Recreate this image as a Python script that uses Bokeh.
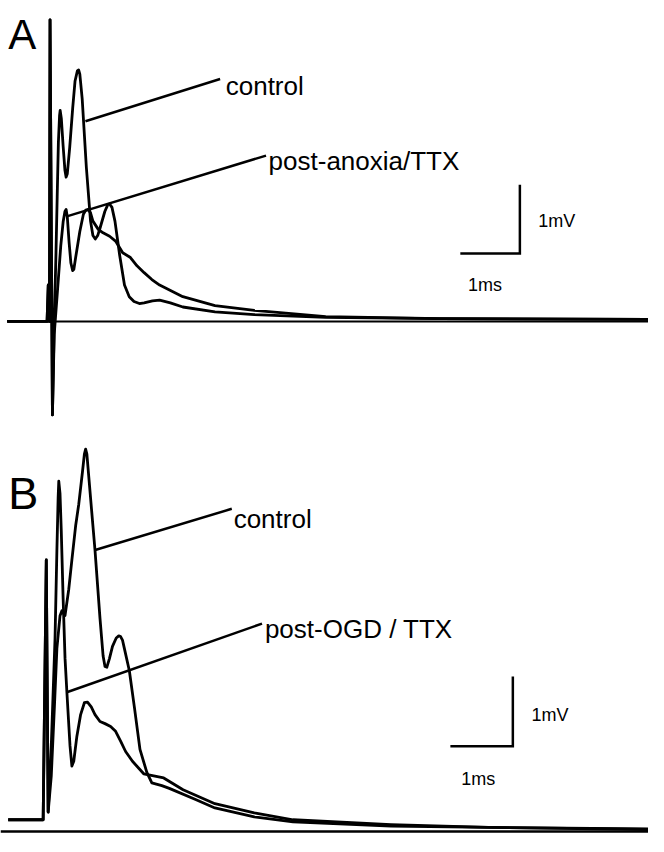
from bokeh.plotting import figure
from bokeh.models import Range1d
from bokeh.layouts import column
from bokeh.core.properties import value
from bokeh.embed import file_html
from bokeh.resources import INLINE

# ---------------- Panel A data (time in ms from stimulus, voltage in mV) -------------
a_ctrl_t = [-0.74, -0.07, -0.05, -0.03, -0.02, 0.02, 0.05, 0.08, 0.10, 0.12, 0.14, 0.15,
            0.17, 0.20, 0.23, 0.25, 0.27, 0.31, 0.36, 0.40, 0.44, 0.46, 0.48, 0.52, 0.59,
            0.66, 0.70, 0.74, 0.78, 0.82, 0.90, 0.95, 0.98, 1.02, 1.07, 1.15, 1.23, 1.31,
            1.39, 1.48, 1.56, 1.70, 1.82, 2.00, 2.21, 2.75, 3.41, 4.61, 6.52, 10.03]
a_ctrl_v = [0.0, 0.0, 0.53, 0.0, 4.39, -1.36, -0.04, 1.00, 1.81, 2.60, 3.00, 3.07,
            2.95, 2.55, 2.20, 2.10, 2.15, 2.53, 3.10, 3.50, 3.65, 3.66, 3.60, 3.24, 2.24,
            1.46, 1.25, 1.20, 1.25, 1.36, 1.60, 1.70, 1.71, 1.66, 1.46, 0.96, 0.53, 0.36,
            0.29, 0.26, 0.27, 0.30, 0.31, 0.27, 0.21, 0.14, 0.10, 0.06, 0.04, 0.03]

a_post_t = [-0.74, -0.07, -0.05, -0.03, -0.02, 0.02, 0.05, 0.10, 0.16, 0.20, 0.23, 0.25,
            0.27, 0.30, 0.33, 0.36, 0.38, 0.41, 0.48, 0.54, 0.58, 0.62, 0.66, 0.70, 0.79,
            0.87, 0.98, 1.08, 1.20, 1.33, 1.44, 1.56, 1.69, 1.82, 2.21, 2.75, 3.41, 4.61,
            6.52, 10.03]
a_post_v = [0.0, 0.0, 0.53, 0.0, 4.39, -1.36, -0.19, 0.39, 1.10, 1.45, 1.60, 1.63,
            1.52, 1.15, 0.85, 0.74, 0.76, 0.93, 1.31, 1.56, 1.62, 1.63, 1.58, 1.46, 1.34,
            1.29, 1.24, 1.17, 1.00, 0.93, 0.81, 0.71, 0.61, 0.53, 0.36, 0.23, 0.16, 0.07,
            0.04, 0.03]

# ---------------- Panel B data -------------
b_ctrl_t = [-0.58, -0.02, 0.03, 0.06, 0.11, 0.16, 0.20, 0.25, 0.28, 0.33, 0.39, 0.44,
            0.50, 0.55, 0.61, 0.64, 0.66, 0.68, 0.71, 0.77, 0.81, 0.89, 0.94, 0.97, 1.00,
            1.04, 1.09, 1.15, 1.19, 1.22, 1.25, 1.28, 1.36, 1.44, 1.53, 1.64, 1.72, 1.88,
            2.00, 2.42, 2.73, 3.36, 3.98, 5.55, 7.11, 9.67]
b_ctrl_v = [0.17, 0.17, 3.90, 0.28, 0.80, 1.79, 2.63, 3.10, 3.17, 3.10, 3.48, 3.90,
            4.39, 4.70, 5.17, 5.42, 5.49, 5.42, 5.10, 4.46, 4.04, 3.06, 2.52, 2.37, 2.36,
            2.48, 2.66, 2.78, 2.81, 2.80, 2.75, 2.63, 2.31, 1.79, 1.18, 0.85, 0.70, 0.66,
            0.62, 0.46, 0.34, 0.21, 0.14, 0.08, 0.06, 0.03]

b_post_t = [-0.58, -0.02, 0.03, 0.06, 0.11, 0.17, 0.20, 0.22, 0.23, 0.25, 0.27, 0.30,
            0.33, 0.36, 0.41, 0.44, 0.47, 0.52, 0.58, 0.64, 0.69, 0.75, 0.81, 0.89, 0.97,
            1.06, 1.14, 1.22, 1.30, 1.41, 1.59, 1.75, 1.91, 2.22, 2.73, 3.36, 3.98, 5.55,
            7.11, 9.67]
b_post_v = [0.17, 0.17, 3.90, 0.28, 1.23, 2.77, 4.04, 4.80, 5.03, 4.85, 4.32, 3.34,
            2.49, 2.00, 1.23, 0.94, 1.01, 1.37, 1.68, 1.85, 1.86, 1.79, 1.68, 1.58, 1.55,
            1.51, 1.44, 1.30, 1.15, 1.01, 0.83, 0.80, 0.77, 0.60, 0.40, 0.27, 0.17, 0.10,
            0.06, 0.04]

panel_labels = ["A", "B"]
a_names = ["control", "post-anoxia/TTX"]
b_names = ["control", "post-OGD / TTX"]
scale_ms = 1.0
scale_mv = 1.0

FONT = value("Liberation Sans")
W = 648


def make_fig(h, xr, yr):
    p = figure(width=W, height=h, x_range=Range1d(*xr), y_range=Range1d(*yr),
               output_backend="svg", toolbar_location=None, min_border=0,
               min_border_left=0, min_border_right=0, min_border_top=0,
               min_border_bottom=0, outline_line_color=None,
               background_fill_color="white", border_fill_color="white")
    p.xaxis.visible = False
    p.yaxis.visible = False
    p.grid.visible = False
    return p


def label(p, x, y, txt, size):
    p.text(x=[x], y=[y], text=[txt], text_font=FONT, text_font_size=size,
           text_color="black", text_align="left", text_baseline="alphabetic")


def scale_bar(p, cx, cy, lx1, ly1, lx2, ly2):
    p.line([cx - scale_ms, cx, cx], [cy, cy, cy + scale_mv], line_color="black",
           line_width=2.5, line_join="miter")
    label(p, lx1, ly1, "1mV", "18px")
    label(p, lx2, ly2, "1ms", "18px")


# ---------------- Panel A -------------
pA = make_fig(422, (-0.852, 10.03), (-1.471, 4.671))
pA.line([-0.738, 10.03], [0, 0], line_color="black", line_width=2)
pA.line(a_post_t, a_post_v, line_color="black", line_width=2.8, line_join="round")
pA.line(a_ctrl_t, a_ctrl_v, line_color="black", line_width=2.8, line_join="round")
pA.line([0.574, 2.836], [2.914, 3.529], line_color="black", line_width=2.5)
pA.line([0.262, 3.607], [1.529, 2.414], line_color="black", line_width=2.5)
label(pA, -0.72, 4.17, panel_labels[0], "42px")
label(pA, 2.93, 3.43, a_names[0], "26px")
label(pA, 3.65, 2.34, a_names[1], "26px")
scale_bar(pA, 7.87, 0.99, 8.18, 1.457, 7.0, 0.529)

# ---------------- Panel B -------------
pB = make_fig(414, (-0.703, 9.672), (-0.0704, 5.873))
pB.line([-0.703, 9.672], [0, 0], line_color="black", line_width=2.5)
pB.line(b_post_t, b_post_v, line_color="black", line_width=2.8, line_join="round")
pB.line(b_ctrl_t, b_ctrl_v, line_color="black", line_width=2.8, line_join="round")
pB.line([0.8125, 3.0], [4.042, 4.634], line_color="black", line_width=2.5)
pB.line([0.359, 3.484], [2.0, 2.986], line_color="black", line_width=2.5)
label(pB, -0.58, 4.86, panel_labels[1], "45px")
label(pB, 3.03, 4.49, b_names[0], "26px")
label(pB, 3.53, 2.915, b_names[1], "26px")
scale_bar(pB, 7.5, 1.225, 7.797, 1.676, 6.672, 0.761)

layout = column(pA, pB, spacing=0)
open("out.html", "w").write(file_html(layout, INLINE))
